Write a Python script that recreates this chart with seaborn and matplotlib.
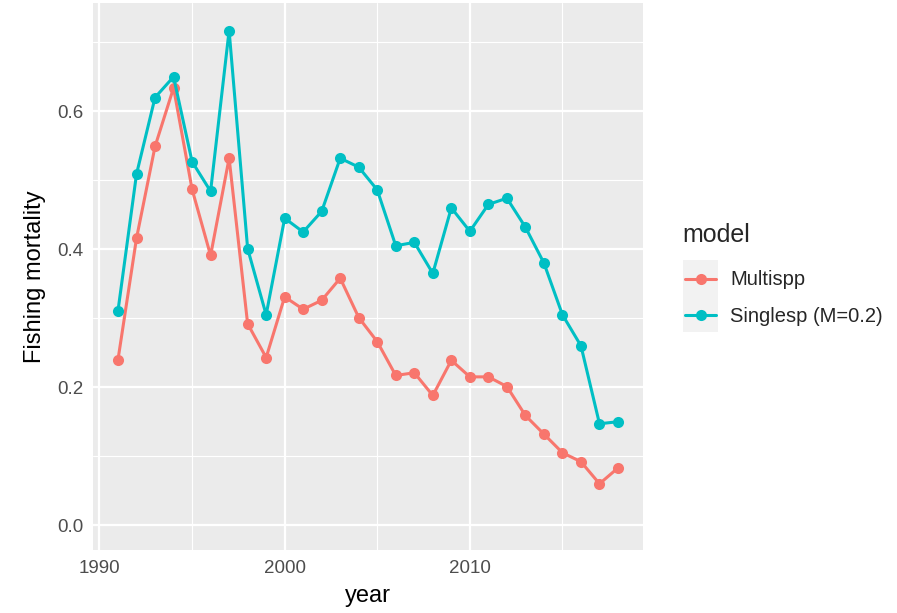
import matplotlib
matplotlib.use("Agg")
import matplotlib.pyplot as plt
from matplotlib.ticker import MultipleLocator, FormatStrFormatter
from matplotlib.patches import Rectangle
from matplotlib.lines import Line2D
import numpy as np
import pandas as pd
import seaborn as sns

# ---- data ----
years = list(range(1991, 2019))
multispp = [0.240, 0.416, 0.549, 0.634, 0.487, 0.391, 0.532, 0.292, 0.243, 0.331,
            0.313, 0.326, 0.358, 0.301, 0.266, 0.217, 0.221, 0.188, 0.239, 0.215,
            0.215, 0.201, 0.159, 0.132, 0.105, 0.092, 0.060, 0.083]
singlesp = [0.311, 0.509, 0.620, 0.650, 0.527, 0.484, 0.717, 0.401, 0.305, 0.445,
            0.425, 0.455, 0.532, 0.519, 0.486, 0.405, 0.410, 0.365, 0.460, 0.426,
            0.465, 0.474, 0.432, 0.380, 0.305, 0.260, 0.147, 0.150]
models = ["Multispp", "Singlesp (M=0.2)"]
colors = ["#F8766D", "#00BFC4"]
x_ticks = [1990, 2000, 2010]
y_ticks = [0.0, 0.2, 0.4, 0.6]

df = pd.DataFrame({
    "year": years * 2,
    "F": multispp + singlesp,
    "model": [models[0]] * len(years) + [models[1]] * len(years),
})

sns.set_style("white")
plt.rcParams["font.family"] = ["Liberation Sans", "DejaVu Sans"]

W, H = 897, 613
fig = plt.figure(figsize=(W / 100, H / 100), dpi=100)
fig.patch.set_facecolor("white")
ax = fig.add_axes([93 / W, 1 - 550 / H, (643 - 93) / W, (550 - 3) / H])

sns.lineplot(data=df, x="year", y="F", hue="model", palette=colors,
             hue_order=models, marker="o", markersize=8, markeredgewidth=0,
             linewidth=2.2, ax=ax, legend=False)

ax.set_facecolor("#EBEBEB")
ax.set_xlim(1989.65, 2019.35)
ax.set_ylim(-0.036, 0.757)
ax.set_xticks(x_ticks)
ax.set_yticks(y_ticks)
ax.xaxis.set_minor_locator(MultipleLocator(5))
ax.yaxis.set_minor_locator(MultipleLocator(0.1))
ax.yaxis.set_major_formatter(FormatStrFormatter("%.1f"))
ax.grid(which="major", color="white", linewidth=1.6)
ax.grid(which="minor", color="white", linewidth=0.8)
ax.set_axisbelow(True)
for s in ax.spines.values():
    s.set_visible(False)
ax.tick_params(which="major", length=4, width=1.2, color="#333333",
               labelcolor="#4D4D4D", labelsize=13.5, pad=3)
ax.tick_params(which="minor", length=0)
ax.set_xlabel("year", fontsize=17, color="black", labelpad=6)
ax.set_ylabel("Fishing mortality", fontsize=17, color="black", labelpad=8)

# ---- legend (ggplot style) ----
def fx(px):
    return px / W

def fy(py):
    return 1 - py / H

fig.text(fx(682), fy(235), "model", fontsize=18, va="center", ha="left")
key_h = 36
key_top = 260
for i, (m, c) in enumerate(zip(models, colors)):
    top = key_top + i * key_h
    fig.patches.append(Rectangle((fx(683), fy(top + key_h)), fx(35), key_h / H,
                                 transform=fig.transFigure, facecolor="#F2F2F2",
                                 edgecolor="none"))
    cy = fy(top + key_h / 2 + 1)
    fig.lines.append(Line2D([fx(685), fx(716)], [cy, cy], transform=fig.transFigure,
                            color=c, linewidth=2.2))
    fig.lines.append(Line2D([fx(700.5)], [cy], transform=fig.transFigure, color=c,
                            marker="o", markersize=8, markeredgewidth=0))
    fig.text(fx(730), fy(top + key_h / 2 + 2), m, fontsize=14.5, va="center", ha="left")

fig.savefig("out.png", dpi=100)
